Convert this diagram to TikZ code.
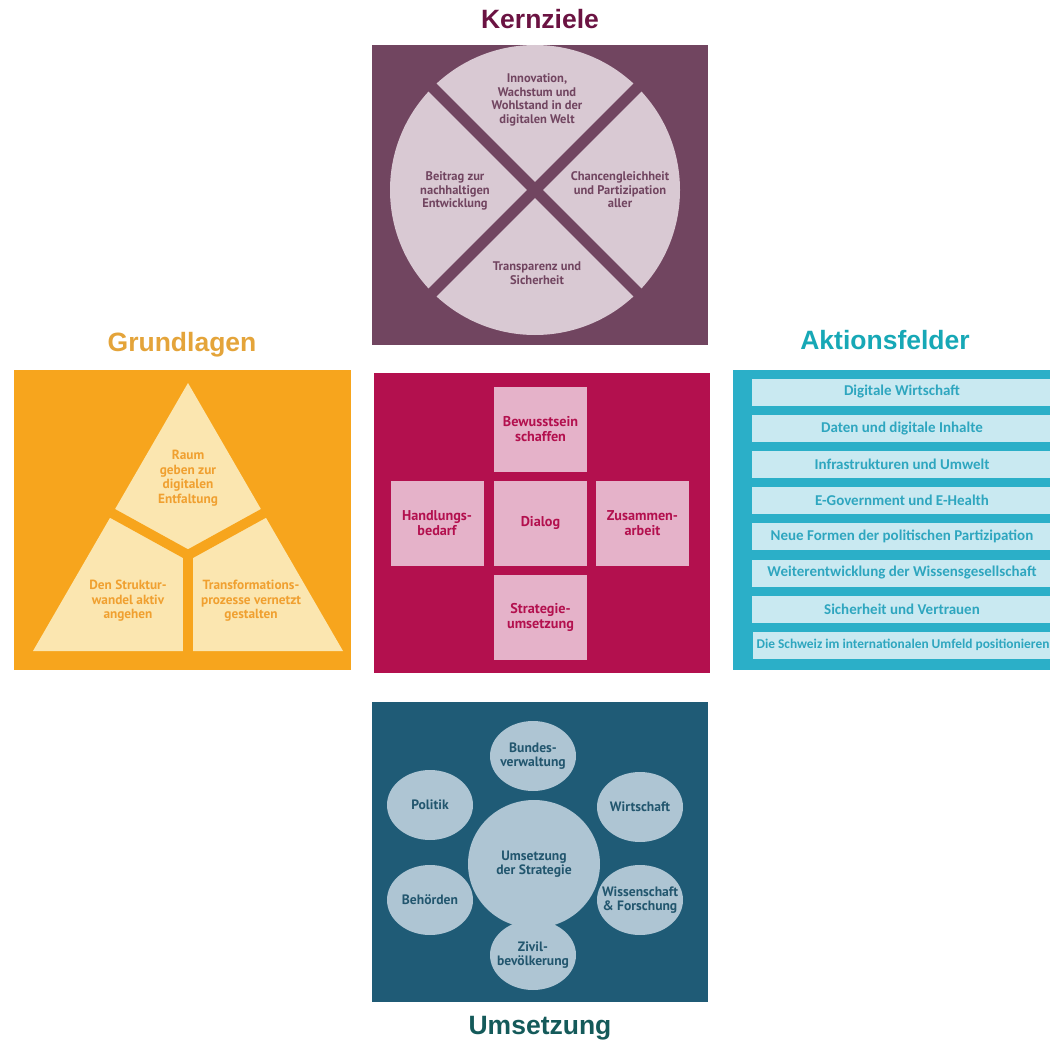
\documentclass[tikz,border=0pt]{standalone}
\usepackage{fontspec}
\setmainfont{PT Sans}
\newfontfamily\titlefont{Liberation Sans}
\newfontfamily\barfont{Carlito}
\usepackage{xcolor}
\usepackage{tikz}
\usetikzlibrary{shapes}
\definecolor{kernbg}{HTML}{714560}
\definecolor{kernfg}{HTML}{D9C9D3}
\definecolor{kerntitle}{HTML}{6B1342}
\definecolor{grundbg}{HTML}{F7A51D}
\definecolor{grundfg}{HTML}{FBE6B0}
\definecolor{grundtxt}{HTML}{F0A030}
\definecolor{grundtitle}{HTML}{E4A43A}
\definecolor{mittebg}{HTML}{B3104E}
\definecolor{mittefg}{HTML}{E5B2C9}
\definecolor{aktbg}{HTML}{2BAFC8}
\definecolor{aktfg}{HTML}{C9E9F1}
\definecolor{akttxt}{HTML}{2EA6BF}
\definecolor{akttitle}{HTML}{17A8B6}
\definecolor{umsbg}{HTML}{1F5B76}
\definecolor{umsfg}{HTML}{AEC5D3}
\definecolor{umstxt}{HTML}{22566E}
\definecolor{umstitle}{HTML}{145A5A}
\tikzset{
	title node/.style={font=\titlefont\bfseries\fontsize{26.5}{30}\selectfont},
	label node/.style={align=center,inner sep=0pt,font=\bfseries\fontsize{12.5}{13.6}\selectfont},
	grund node/.style={label node,text=grundtxt,font=\bfseries\fontsize{13.3}{14.5}\selectfont},
	square node/.style={label node,fill=mittefg,text=mittebg,minimum width=93pt,minimum height=85pt,
		font=\bfseries\fontsize{14.2}{14.5}\selectfont},
	bar node/.style={fill=aktfg,text=akttxt,minimum height=27pt,inner sep=0pt,
		font=\barfont\bfseries\fontsize{15}{17}\selectfont},
	oval node/.style={ellipse,label node,fill=umsfg,text=umstxt,minimum width=86pt,minimum height=70pt,
		inner xsep=-14pt,inner ysep=-10pt,font=\bfseries\fontsize{13.6}{14}\selectfont}
}

\begin{document}
\begin{tikzpicture}[x=1pt,y=-1pt]
\useasboundingbox (0,0) rectangle (1050,1043);

% Kernziele
\node [title node,text=kerntitle] (kernziele) at (540,19) {Kernziele};
\fill [kernbg] (372,45) rectangle (708,345);
\fill [kernfg] (535,190) circle (145);
\begin{scope}
  \clip (372,45) rectangle (708,345);
  \draw [kernbg,line width=11pt] (395,50) -- (675,330);
  \draw [kernbg,line width=11pt] (675,50) -- (395,330);
\end{scope}
\node [label node,text=kernbg] (innovation) at (537,100) {Innovation,\\Wachstum und\\Wohlstand in der\\digitalen Welt};
\node [label node,text=kernbg] (beitrag) at (455,191) {Beitrag zur\\nachhaltigen\\Entwicklung};
\node [label node,text=kernbg] (chancen) at (620,190) {Chancengleichheit\\und Partizipation\\aller};
\node [label node,text=kernbg] (transparenz) at (537,273) {Transparenz und\\Sicherheit};

% Grundlagen
\node [title node,text=grundtitle] (grundlagen) at (182,345) {Grundlagen};
\fill [grundbg] (14,370) rectangle (351,670);
\fill [grundfg] (188,383) -- (343,651) -- (33,651) -- cycle;
\draw [grundbg,line width=10pt] (188,555) -- (110,512);
\draw [grundbg,line width=10pt] (188,555) -- (266,512);
\draw [grundbg,line width=10pt] (188,555) -- (188,655);
\node [grund node] (raum) at (188,478) {Raum\\geben zur\\digitalen\\Entfaltung};
\node [grund node] (struktur) at (128,601) {Den Struktur-\\wandel aktiv\\angehen};
\node [grund node] (transformation) at (251,601) {Transformations-\\prozesse vernetzt\\gestalten};

% Mitte
\fill [mittebg] (374,373) rectangle (710,673);
\node [square node] (bewusstsein) at (540.5,429) {Bewusstsein\\schaffen};
\node [square node] (handlung) at (437,523) {Handlungs-\\bedarf};
\node [square node] (dialog) at (540.5,523) {Dialog};
\node [square node] (zusammen) at (642.5,523) {Zusammen-\\arbeit};
\node [square node] (strategie) at (540.5,617.5) {Strategie-\\umsetzung};

% Aktionsfelder
\node [title node,text=akttitle] (aktionsfelder) at (885,340) {Aktionsfelder};
\fill [aktbg] (733,370) rectangle (1050,670);
\begin{scope}
  \clip (733,370) rectangle (1050,670);
  \foreach \txt [count=\i] in {Digitale Wirtschaft,Daten und digitale Inhalte,Infrastrukturen und Umwelt,
      E-Government und E-Health,Neue Formen der politischen Partizipation,
      Weiterentwicklung der Wissensgesellschaft,Sicherheit und Vertrauen}
    \node [bar node,minimum width=300pt] (bar\i) at (902,{392+36.2*(\i-1)}) {\txt};
  \node [bar node,minimum width=300pt,font=\barfont\bfseries\fontsize{13.4}{15}\selectfont] (bar8) at (903,645) {Die Schweiz im internationalen Umfeld positionieren};
\end{scope}

% Umsetzung
\fill [umsbg] (372,702) rectangle (708,1002);
\node [oval node,minimum width=132pt,minimum height=128pt] (umsetzung) at (534,864) {Umsetzung\\der Strategie};
\node [oval node] (bund) at (533,756) {Bundes-\\verwaltung};
\node [oval node] (wirtschaft) at (640,807) {Wirtschaft};
\node [oval node] (politik) at (430,805) {Politik};
\node [oval node] (behoerden) at (430,900) {Behörden};
\node [oval node] (wissenschaft) at (640,900) {Wissenschaft\\\& Forschung};
\node [oval node] (zivil) at (533,955) {Zivil-\\bevölkerung};
\node [title node,text=umstitle] (umsetzungtitle) at (540,1028) {Umsetzung};
\end{tikzpicture}
\end{document}
